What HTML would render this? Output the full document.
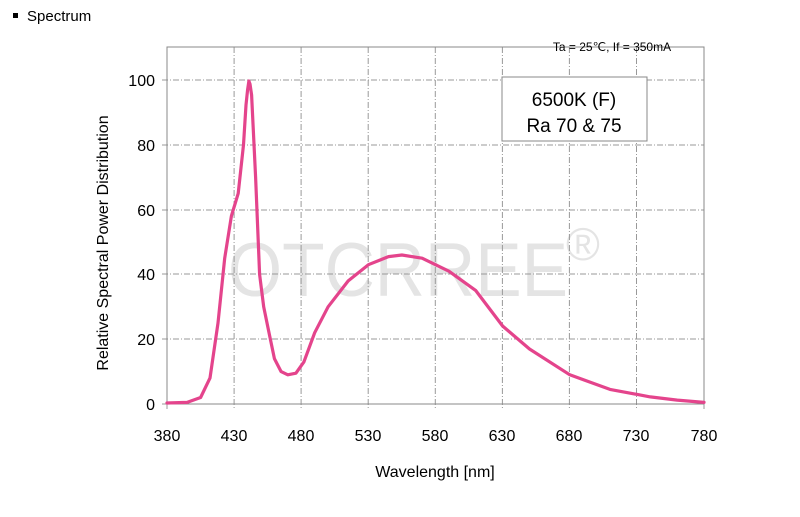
<!DOCTYPE html><html><head><style>body{margin:0;background:#fff;width:800px;height:512px;overflow:hidden;font-family:"Liberation Sans",sans-serif}</style></head><body>
<svg width="800" height="512" xmlns="http://www.w3.org/2000/svg" font-family="Liberation Sans, sans-serif">
<rect x="13" y="13" width="5" height="5" fill="#000"/>
<text x="27" y="21" font-size="15">Spectrum</text>
<text x="228" y="296" font-size="76" fill="#e4e4e4" textLength="340" lengthAdjust="spacingAndGlyphs">OTCRREE</text>
<text x="566" y="260" font-size="46" fill="#e4e4e4">®</text>
<g stroke="#999" stroke-width="1" stroke-dasharray="6,2,1,2">
<line x1="234.1" y1="47" x2="234.1" y2="409"/><line x1="301.1" y1="47" x2="301.1" y2="409"/><line x1="368.2" y1="47" x2="368.2" y2="409"/><line x1="435.3" y1="47" x2="435.3" y2="409"/><line x1="502.4" y1="47" x2="502.4" y2="409"/><line x1="569.4" y1="47" x2="569.4" y2="409"/><line x1="636.5" y1="47" x2="636.5" y2="409"/>
<line x1="162" y1="80" x2="704" y2="80"/><line x1="162" y1="145" x2="704" y2="145"/><line x1="162" y1="210" x2="704" y2="210"/><line x1="162" y1="274" x2="704" y2="274"/><line x1="162" y1="339" x2="704" y2="339"/>
</g>
<line x1="162" y1="404" x2="167" y2="404" stroke="#999"/>
<line x1="167" y1="404" x2="167" y2="409" stroke="#999"/><line x1="704" y1="404" x2="704" y2="409" stroke="#999"/>
<rect x="167" y="47" width="537" height="357" fill="none" stroke="#888" stroke-width="1"/>
<text x="612" y="51" font-size="12" text-anchor="middle">Ta = 25℃,  If = 350mA</text>
<rect x="502" y="77" width="145" height="64" fill="#fff" stroke="#888"/>
<text x="574" y="106" font-size="19" text-anchor="middle">6500K (F)</text>
<text x="574" y="132" font-size="19" text-anchor="middle">Ra 70 &amp; 75</text>
<g font-size="16" text-anchor="end">
<text x="155" y="86">100</text><text x="155" y="151">80</text><text x="155" y="216">60</text><text x="155" y="280">40</text><text x="155" y="345">20</text><text x="155" y="410">0</text></g>
<g font-size="16" text-anchor="middle">
<text x="167" y="441">380</text><text x="234" y="441">430</text><text x="301" y="441">480</text><text x="368" y="441">530</text><text x="435" y="441">580</text><text x="502" y="441">630</text><text x="569" y="441">680</text><text x="636" y="441">730</text><text x="704" y="441">780</text></g>
<text x="435" y="477" font-size="16" text-anchor="middle">Wavelength [nm]</text>
<text transform="translate(108,243) rotate(-90)" font-size="16" text-anchor="middle">Relative Spectral Power Distribution</text>
<polyline fill="none" stroke="#e4448c" stroke-width="3.2" stroke-linejoin="round" stroke-linecap="round" points="167,403 187.1,402.4 200.6,397.5 210,378 218,323 224.7,258.2 231.4,216 238.2,193.4 243.5,144.8 246,105 247.6,89.7 248.9,81 250,84 251.6,95 255.6,177.2 259.6,274.4 263.7,306.8 269,332.7 274.4,358.6 281.1,371.6 287.8,374.8 295.9,373.2 303.9,361.9 314.7,332.7 328.1,306.8 348.2,280.9 368.4,264.7 388.5,256.6 401.9,255 422.1,258.2 448.9,271.2 475.8,290.6 502.6,326 529.5,349 569.8,374.8 610,389.4 650.3,396.9 677.2,400.1 704,402.4"/>
</svg></body></html>
